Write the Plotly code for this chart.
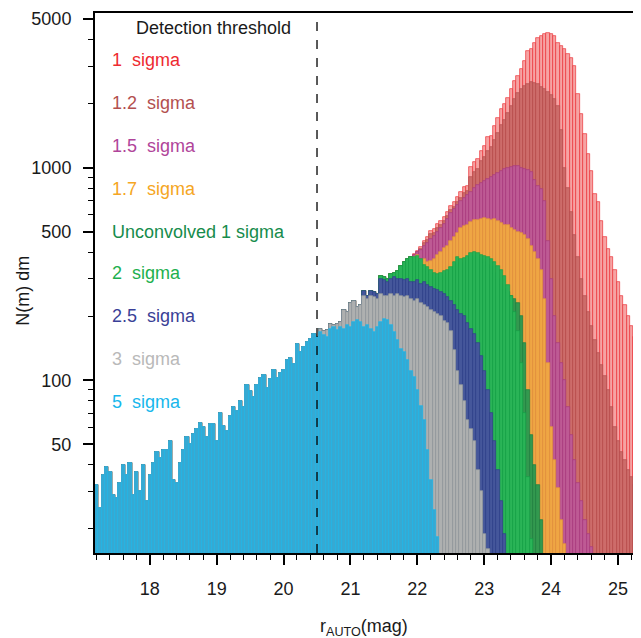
import plotly.graph_objects as go

# ---------------- data ----------------
bin_lo = 17.18          # left edge of first magnitude bin
bin_width = 0.05        # magnitude bin width

# counts shared by all thresholds, bins 17.18 .. 20.53
shared_bright = [32, 25, 36, 39, 37, 29, 28, 33, 40, 36, 41, 29, 37, 30, 40, 27, 36, 41, 46, 43,
                 47, 47, 52, 34, 33, 41, 47, 54, 50, 56, 59, 63, 60, 54, 62, 62, 52, 70, 61, 58,
                 68, 75, 72, 80, 75, 95, 89, 83, 95, 103, 106, 92, 101, 112, 103, 108, 112, 124, 127, 119,
                 148, 136, 143, 151, 157, 165, 160]

# counts from bin 20.53 onwards, one list per threshold
tail_1sigma = [175, 170, 172, 184, 181, 184, 187, 213, 210, 232, 237, 220, 227,
               264, 248, 264, 260, 255, 310, 305, 300, 315, 320, 326, 345, 359, 372, 379,
               393, 407, 422, 454, 470, 505, 515, 543, 563, 584, 617, 662, 687, 725, 765, 807, 822,
               1002, 1058, 1097, 1200, 1267, 1386, 1410, 1571, 1720, 1882, 1988, 2134, 2337, 2558, 2700, 2903, 3173, 3534, 3597,
               3866, 4084, 4157, 4233, 4309, 4233, 4157, 3866, 3733, 3597, 3411, 3289, 3006, 2214, 1784, 1437,
               1158, 967, 751, 687, 563, 470, 415, 379, 330, 290, 250, 225, 200, 180, 160, 145]
tail_1p2sigma = [175, 170, 172, 184, 181, 184, 187, 213, 210, 232, 237, 220, 227,
                 264, 248, 264, 260, 255, 310, 305, 300, 315, 320, 326, 345, 359, 372, 379,
                 390, 400, 415, 440, 455, 485, 495, 520, 540, 560, 590, 630, 650, 690, 720, 760, 780,
                 900, 950, 990, 1070, 1120, 1200, 1250, 1350, 1450, 1580, 1680, 1800, 1950, 2100, 2250, 2350, 2430, 2480, 2520,
                 2500, 2460, 2400, 2350, 2280, 2200, 2100, 1950, 1500, 1000, 800, 620, 480, 380, 300, 250,
                 210, 180, 155, 135, 118, 105, 90, 75, 60, 52, 46, 42, 38, 35, 32, 30]
tail_1p5sigma = [175, 170, 172, 184, 181, 184, 187, 213, 210, 232, 237, 220, 227,
                 264, 248, 264, 260, 255, 310, 305, 300, 315, 320, 326, 345, 359, 372, 379,
                 390, 400, 410, 430, 440, 460, 475, 500, 520, 545, 575, 610, 640, 670, 700, 720, 745,
                 770, 800, 830, 850, 865, 880, 900, 920, 945, 960, 980, 1000, 1010, 1020, 1015, 1000, 985, 970, 950,
                 870, 820, 790, 700, 450, 300, 200, 150, 120, 100, 75, 55, 42, 33, 27, 22, 19, 16.5]
tail_1p7sigma = [175, 170, 172, 184, 181, 184, 187, 213, 210, 232, 237, 220, 227,
                 264, 248, 264, 260, 255, 310, 305, 300, 315, 320, 326, 345, 359, 372, 379,
                 380, 390, 360, 370, 360, 365, 370, 390, 400, 420, 430, 450, 470, 490, 520, 530, 540,
                 555, 565, 570, 575, 580, 575, 570, 575, 560, 550, 540, 535, 520, 510, 500, 490,
                 480, 460, 430, 400, 370, 330, 240, 120, 60, 42, 31, 22, 17]
tail_unconv = [175, 170, 172, 184, 181, 184, 187, 213, 210, 232, 237, 220, 227,
               264, 248, 264, 260, 255, 310, 305, 300, 315, 320, 326, 345, 359, 372, 379,
               360, 365, 350, 335, 325, 315, 305, 300, 305, 310, 315, 325, 340, 355, 350, 355, 365,
               380, 385, 380, 370, 360, 350, 340, 320, 300, 285, 270, 260, 250, 240, 230, 200,
               150, 90, 55, 40, 32, 22]
tail_2sigma = [175, 170, 172, 184, 181, 184, 187, 213, 210, 232, 237, 220, 227,
               264, 248, 264, 260, 255, 310, 305, 300, 315, 320, 326, 345, 359, 372, 379,
               380, 385, 370, 350, 340, 330, 320, 315, 320, 325, 330, 340, 360, 380, 370, 375, 385,
               395, 400, 395, 390, 385, 380, 370, 360, 345, 330, 310, 280, 250, 210, 170, 120,
               70, 35, 18]
tail_2p5sigma = [175, 170, 172, 184, 181, 184, 187, 213, 210, 232, 237, 220, 227,
                 264, 248, 264, 260, 255,
                 300, 295, 290, 300, 305, 300, 300, 295, 300, 290, 290, 295, 285, 290, 280, 275, 270, 265, 260,
                 255, 245, 235, 225, 215, 205, 200, 185, 175, 165, 150, 130, 110, 90, 70, 52, 38, 27, 19]
tail_3sigma = [175, 170, 172, 184, 181, 184, 187, 213, 210, 232, 237, 220, 227,
               248, 240, 250, 245, 240, 255, 250, 250, 255, 250, 255, 250, 245, 250, 240,
               235, 240, 230, 225, 220, 215, 210, 205, 200, 190, 185, 171, 138, 111, 95, 80, 65,
               59, 52, 38, 30, 19, 16]
tail_5sigma = [168, 163, 160, 175, 178, 172, 178, 175, 181, 178, 188, 193, 188, 178, 181,
               175, 168, 178, 188, 195, 193, 181, 168, 154, 141, 136, 124, 111, 104, 90,
               76, 65, 47, 34, 24.5, 18.3]

series_names = ["1  sigma", "1.2  sigma", "1.5  sigma", "1.7  sigma", "Unconvolved 1 sigma",
                "2  sigma", "2.5  sigma", "3  sigma", "5  sigma"]
series_tails = [tail_1sigma, tail_1p2sigma, tail_1p5sigma, tail_1p7sigma, tail_unconv,
                tail_2sigma, tail_2p5sigma, tail_3sigma, tail_5sigma]

y_major = [50, 100, 500, 1000, 5000]
y_minor = [20, 30, 40, 60, 70, 80, 90, 200, 300, 400, 600, 700, 800, 900, 2000, 3000, 4000]
x_major = [18, 19, 20, 21, 22, 23, 24, 25]
threshold_mag = 20.5

# ---------------- styles ----------------
fills = ["#f6a3a3", "#cd6c6a", "#be5a94", "#efa644", "#33994f", "#2ab457", "#45579b", "#aeb0b0", "#37a9d2"]
edges = ["#ea3036", "#b34c4c", "#a83a80", "#e2913a", "#1a7f42", "#16a047", "#303e8c", "#939a9b", "#1db6ea"]
label_colors = ["#ee2a30", "#b3504f", "#b0449a", "#f5a623", "#168c4c", "#1db04e", "#3a3f97", "#b9b9b9", "#17b7ec"]
FONT = "Liberation Sans, Arial, Helvetica, sans-serif"
TXT = "#1a1a1a"

fig = go.Figure()
for name, tail, fc, ec in zip(series_names, series_tails, fills, edges):
    counts = shared_bright + tail
    centers = [bin_lo + bin_width * (i + 0.5) for i in range(len(counts))]
    fig.add_trace(go.Bar(x=centers, y=counts, width=bin_width, name=name,
                         marker=dict(color=fc, line=dict(color=ec, width=0.7)),
                         showlegend=False))

fig.add_shape(type="line", x0=threshold_mag, x1=threshold_mag, y0=0, y1=1, yref="paper",
              line=dict(color="black", width=1.3, dash="dash"))

ann = [dict(text="Detection threshold", x=0.218, y=0.972, xanchor="center", font_color=TXT)]
label_y = [0.913, 0.8336, 0.7542, 0.6747, 0.5952, 0.5176, 0.4381, 0.3586, 0.2791]
for name, yy, col in zip(series_names, label_y, label_colors):
    ann.append(dict(text=name.replace("  ", " \u00a0"), x=0.0275, y=yy, xanchor="left", font_color=col))
ann.append(dict(text="N(m) dm", x=-0.134, y=0.486, xanchor="center", textangle=-90, font_color=TXT))
ann.append(dict(text="r<sub>AUTO</sub>(mag)", x=0.495, y=-0.138, xanchor="center", font_color=TXT))
for a in ann:
    fig.add_annotation(xref="paper", yref="paper", yanchor="middle", showarrow=False,
                       font=dict(family=FONT, size=18, color=a.pop("font_color")), **a)

# page body has an 8px margin, so the figure is 8px smaller than the window
fig.update_layout(
    width=633, height=630, margin=dict(l=87, r=1, t=4, b=85),
    paper_bgcolor="white", plot_bgcolor="white", barmode="overlay", bargap=0,
    font=dict(family=FONT, size=18, color=TXT),
    xaxis=dict(range=[17.18, 25.30], tickmode="array", tickvals=x_major,
               ticks="outside", ticklen=10, tickwidth=1.5, tickcolor="black",
               showline=True, linewidth=2, linecolor="black", mirror=True,
               showgrid=False, zeroline=False, ticklabelstandoff=8,
               tickfont=dict(family=FONT, size=18, color=TXT),
               minor=dict(dtick=0.2, tick0=17.0, ticks="outside", ticklen=5, tickwidth=1,
                          tickcolor="black", showgrid=False)),
    yaxis=dict(type="log", range=[1.1875, 3.7271], tickmode="array", tickvals=y_major,
               ticktext=[str(v) for v in y_major],
               ticks="outside", ticklen=10, tickwidth=1.5, tickcolor="black",
               showline=True, linewidth=2, linecolor="black", mirror=True,
               showgrid=False, zeroline=False, ticklabelstandoff=8,
               tickfont=dict(family=FONT, size=18, color=TXT),
               minor=dict(tickmode="array", tickvals=y_minor, ticks="outside", ticklen=5,
                          tickwidth=1, tickcolor="black", showgrid=False)),
)

fig.write_html("out.html")
